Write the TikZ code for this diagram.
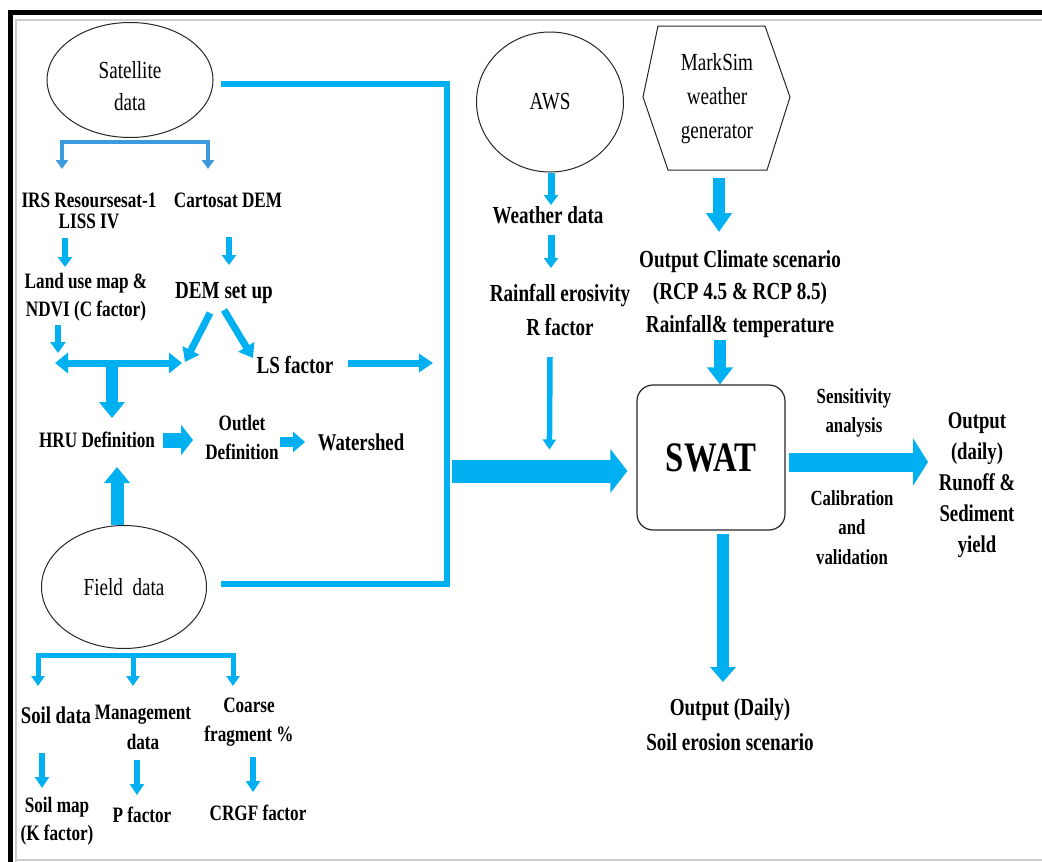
\documentclass[tikz,border=0pt]{standalone}
\usepackage{fontspec}
\setmainfont{Liberation Serif}[FakeStretch=0.78]
\usetikzlibrary{arrows.meta,shapes.geometric,calc}
\definecolor{mb}{RGB}{0,176,240}
\definecolor{bkt}{RGB}{62,154,222}
\definecolor{fr}{RGB}{205,205,205}
\tikzset{
  tx/.style 2 args={inner sep=0pt, align=center, font=\bfseries\fontsize{#1}{#2}\selectfont},
  ell/.style={ellipse, draw=black!85, line width=1pt, inner sep=0pt, align=center, font=\fontsize{24.5}{32}\selectfont},
  ar/.style n args={3}{draw=mb, line width=#1, -{Triangle[width=#2,length=#3]}},
  dar/.style n args={3}{draw=mb, line width=#1, {Triangle[width=#2,length=#3]}-{Triangle[width=#2,length=#3]}},
  bus/.style={draw=mb, line width=6.5pt, line join=miter}
}
\begin{document}
\begin{tikzpicture}[x=1pt,y=-1pt]
\useasboundingbox (0,0) rectangle (1042,862);
% frame
\draw[fr, line width=2pt] (15.5,862) -- (15.5,19.5) -- (1042,19.5);
\draw[fr, line width=2pt] (15,859.5) -- (1042,859.5);
\draw[black, line width=5pt] (10.5,862) -- (10.5,12.5) -- (1042,12.5);

% ellipses and boxes
\node[ell, minimum width=166pt, minimum height=115pt] (sat) at (130,80) {\rule{0pt}{29pt}Satellite\\data};
\node[ell, minimum width=147pt, minimum height=140pt] (aws) at (550,102) {AWS};
\node[ell, minimum width=165pt, minimum height=123pt] (field) at (124,587) {Field\ \ data};
\node[inner sep=0pt, align=center, font=\fontsize{24.5}{34}\selectfont] (mks) at (717,99) {MarkSim\\weather\\generator};
\draw[black!85, line width=1pt] ($(mks)+(-59,-73)$) -- ($(mks)+(48,-73)$) -- ($(mks)+(73,-2)$) -- ($(mks)+(50,71)$) -- ($(mks)+(-49,71)$) -- ($(mks)+(-74,-2)$) -- cycle;
\node[draw=black!85, rounded corners=16pt, line width=1.2pt, minimum width=148pt, minimum height=145pt, inner sep=0pt, font=\bfseries\fontsize{42}{42}\selectfont] (swat) at (711,457.5) {SWAT};

% text nodes left
\node[tx={22}{21.5}] (liss) at (89,211) {IRS Resoursesat-1\\LISS IV};
\node[tx={22}{26}] (carto) at (228,200) {Cartosat DEM};
\node[tx={22}{28}] (ndvi) at (86,297) {Land use map \&\\NDVI (C factor)};
\node[tx={24.5}{30}] (dem) at (224,293) {DEM set up};
\node[tx={24.5}{30}] (ls) at (295,365) {LS factor};
\node[tx={22}{28}] (hru) at (97,440) {HRU Definition};
\node[tx={22}{29}] (outlet) at (242,437.5) {Outlet\\Definition};
\node[tx={24}{30}] (water) at (361,442) {Watershed};
\node[tx={24}{30}] (soil) at (56,715) {Soil data};
\node[tx={22}{30}] (mgmt) at (143,727) {Management\\data};
\node[tx={22}{29}] (coarse) at (249,722.5) {Coarse\\fragment \%};
\node[tx={22}{28}] (soilmap) at (57,821) {Soil map\\(K factor)};
\node[tx={22}{28}] (pf) at (142,815) {P factor};
\node[tx={22}{28}] (crgf) at (258,813) {CRGF factor};

% text nodes right
\node[tx={24.5}{33}] (weather) at (548,215) {Weather data};
\node[tx={24.5}{34}] (rain) at (560,310) {Rainfall erosivity\\R factor};
\node[tx={24.5}{32.5}] (climate) at (740,294) {Output Climate scenario\\(RCP 4.5 \& RCP 8.5)\\Rainfall\& temperature};
\node[tx={21.5}{29}] (sens) at (854,412.5) {Sensitivity\\analysis};
\node[tx={21.5}{29.5}] (calib) at (852,527.5) {Calibration\\and\\validation};
\node[tx={24}{31}] (outR) at (977,485) {Output\\(daily)\\Runoff \&\\Sediment\\yield};
\node[tx={24.5}{35}] (outD) at (730,724.5) {Output (Daily)\\Soil erosion scenario};

% coordinates
\coordinate (bus1) at (447,84);
\coordinate (bus2) at (447,584);
\coordinate (jn) at (112,363);

% bus line
\draw[bus] ($(sat.east)+(7,4)$) -- (bus1) -- (bus2) -- ($(field.east)+(13.5,-3)$);

% satellite bracket
\draw[draw=bkt, line width=4.5pt, {Triangle[width=12pt,length=9pt]}-{Triangle[width=12pt,length=9pt]}]
  ($(liss)+(-27,-42)$) -- ($(sat)+(-68,62)$) -- ($(sat)+(78,62)$) -- ($(carto)+(-20,-31)$);

% left column arrows
\draw[ar={6.5pt}{14pt}{10pt}] ($(liss)+(-24,27)$) -- ($(ndvi)+(-21,-30)$);
\draw[ar={6.5pt}{14pt}{10pt}] ($(carto)+(1,37)$) -- ($(dem)+(5,-28)$);
\draw[ar={6.5pt}{15pt}{11pt}] ($(ndvi)+(-28,28)$) -- ($(jn)+(-54,-10)$);
\draw[dar={7pt}{20pt}{13pt}] ($(jn)+(-57,0)$) -- ($(jn)+(70,0)$);
\draw[ar={7pt}{18pt}{13pt}] ($(dem)+(-14,20)$) -- ($(jn)+(73,-1)$);
\draw[ar={7pt}{18pt}{13pt}] ($(dem)+(0,17)$) -- ($(ls)+(-42,-7)$);
\draw[ar={7pt}{18pt}{14pt}] ($(ls)+(53,-2)$) -- ($(bus1)+(-14,279)$);
\draw[ar={12pt}{25pt}{16pt}] (jn) -- ($(hru)+(15,-22)$);
\draw[ar={13pt}{25pt}{16pt}] ($(field.north)+(-7,0)$) -- ($(hru)+(20,27)$);
\draw[ar={15pt}{30pt}{12pt}] ($(hru)+(66,0)$) -- ($(outlet)+(-49,2.5)$);
\draw[ar={10pt}{20pt}{12pt}] ($(outlet)+(38,4.5)$) -- ($(water)+(-56,0)$);

% field bracket
\draw[draw=mb, line width=5pt, {Triangle[width=13pt,length=10pt]}-{Triangle[width=13pt,length=10pt]}]
  ($(soil)+(-18,-29)$) -- ($(field)+(-86,68)$) -- ($(field)+(109,68)$) -- ($(coarse)+(-16,-36.5)$);
\draw[ar={5pt}{13pt}{10pt}] ($(field)+(9,68)$) -- ($(mgmt)+(-10,-41)$);
\draw[ar={6.5pt}{14pt}{11pt}] ($(soil)+(-14,38)$) -- ($(soilmap)+(-15,-33)$);
\draw[ar={6.5pt}{14pt}{11pt}] ($(mgmt)+(-6,33)$) -- ($(pf)+(-5,-20)$);
\draw[ar={6.5pt}{14pt}{11pt}] ($(coarse)+(4,34.5)$) -- ($(crgf)+(-5,-21)$);

% right part arrows
\draw[ar={7pt}{14pt}{10pt}] ($(aws.south)+(1,0)$) -- ($(weather)+(3,-10)$);
\draw[ar={7pt}{14pt}{10pt}] ($(weather)+(3,20)$) -- ($(rain)+(-9,-42)$);
\draw[ar={5.5pt}{13pt}{10pt}] ($(rain)+(-10,47)$) -- ($(swat.west)+(-87,-8)$);
\draw[ar={23pt}{43pt}{17pt}] ($(bus2)+(5,-113)$) -- ($(swat.west)+(-9,13.5)$);
\draw[ar={12pt}{25pt}{19pt}] ($(mks)+(2,79)$) -- ($(climate)+(-21,-62)$);
\draw[ar={12pt}{25pt}{17pt}] ($(climate)+(-20,46)$) -- ($(swat.north)+(9,0)$);
\draw[ar={19pt}{47pt}{15pt}] ($(swat.east)+(3,4.5)$) -- ($(outR)+(-49,-23)$);
\draw[ar={12pt}{25pt}{15pt}] ($(swat.south)+(12,3)$) -- ($(outD)+(-7,-42.5)$);
\end{tikzpicture}
\end{document}
